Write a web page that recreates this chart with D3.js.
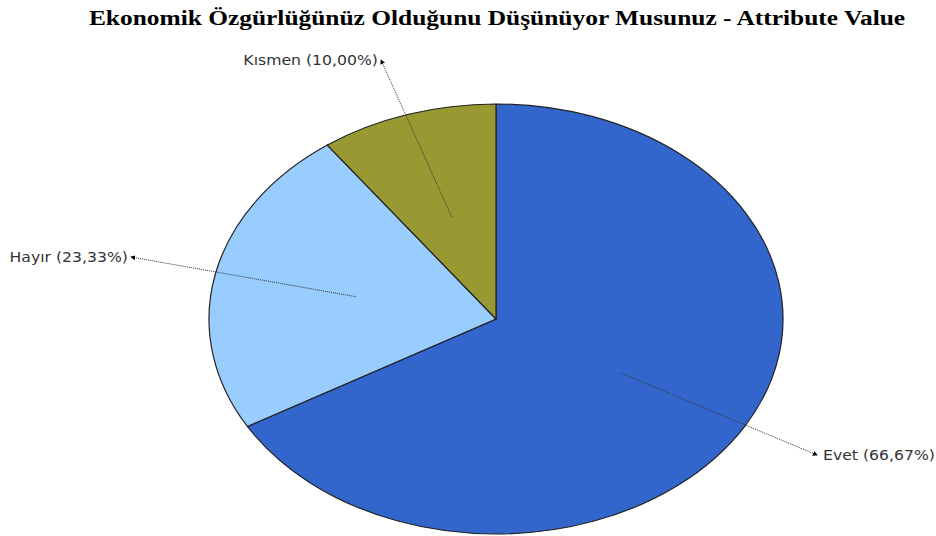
<!DOCTYPE html>
<html>
<head>
<meta charset="utf-8">
<script src="https://cdn.jsdelivr.net/npm/d3@7"></script>
<style>
  body { margin: 0; background: #fff; }
</style>
</head>
<body>
<div id="chart"></div>
<script>
const title = "Ekonomik Özgürlüğünüz Olduğunu Düşünüyor Musunuz - Attribute Value";
const categories = ["Evet", "Hayır", "Kısmen"];
const values = [66.67, 23.33, 10.00];
const colors = ["#3366cc", "#99ccff", "#999933"];

const w = 936, h = 536;
const cx = 496, cy = 319;
const rx = 287, ry = 215;

let svg = d3.select("#chart").append("svg")
  .attr("width", w)
  .attr("height", h);

// title is drawn a bit stretched sideways, like the source image
let titleText = svg.append("g")
  .attr("transform", "translate(497,25)")
  .append("text")
  .attr("x", 0)
  .attr("y", 0)
  .attr("text-anchor", "middle")
  .attr("font-family", "'Liberation Serif', 'Times New Roman', serif")
  .attr("font-weight", "bold")
  .attr("font-size", 21)
  .attr("fill", "#000")
  .text(title);
let tw = titleText.node().getComputedTextLength();
titleText.attr("transform", "scale(" + (817 / tw) + ",1)");

let data = categories.map(function(c, i) {
  return { name: c, value: values[i], color: colors[i] };
});

let pie = d3.pie()
  .sort(null)
  .value(function(d) { return d.value; });

let arcs = pie(data);

let arc = d3.arc()
  .innerRadius(0)
  .outerRadius(rx);

// elliptical pie: draw circle pie, squash vertically
let pieGroup = svg.append("g")
  .attr("transform", "translate(" + cx + "," + cy + ") scale(1," + (ry / rx) + ")");

pieGroup.selectAll("path")
  .data(arcs)
  .enter()
  .append("path")
  .attr("d", arc)
  .attr("fill", function(d) { return d.data.color; })
  .attr("stroke", "#222")
  .attr("stroke-width", 1.2)
  .attr("vector-effect", "non-scaling-stroke");

// arrow marker for leader lines
svg.append("defs").append("marker")
  .attr("id", "tip")
  .attr("viewBox", "0 0 6 6")
  .attr("refX", 5)
  .attr("refY", 3)
  .attr("markerWidth", 5)
  .attr("markerHeight", 5)
  .attr("orient", "auto")
  .append("path")
  .attr("d", "M0,0 L6,3 L0,6 Z")
  .attr("fill", "#000");

// label positions (arrow tip) and side
const labelTips = [[817, 455], [131, 257], [381, 60]];
const labelSide = ["start", "end", "end"];
const labelStretch = 1.12;

function innerPoint(d) {
  let a = (d.startAngle + d.endAngle) / 2;
  return [cx + rx * 0.5 * Math.sin(a), cy - ry * 0.5 * Math.cos(a)];
}

let labels = svg.append("g");

labels.selectAll("line")
  .data(arcs)
  .enter()
  .append("line")
  .attr("x1", function(d) { return innerPoint(d)[0]; })
  .attr("y1", function(d) { return innerPoint(d)[1]; })
  .attr("x2", function(d, i) { return labelTips[i][0]; })
  .attr("y2", function(d, i) { return labelTips[i][1]; })
  .attr("stroke", "#333")
  .attr("stroke-width", 1)
  .attr("stroke-dasharray", "1,1")
  .attr("marker-end", "url(#tip)");

labels.selectAll("g.lbl")
  .data(arcs)
  .enter()
  .append("g")
  .attr("class", "lbl")
  .attr("transform", function(d, i) {
    let x = labelSide[i] === "start" ? labelTips[i][0] + 6 : labelTips[i][0] - 3;
    return "translate(" + x + "," + (labelTips[i][1] + 5) + ") scale(" + labelStretch + ",1)";
  })
  .append("text")
  .text(function(d) {
    return d.data.name + " (" + d.data.value.toFixed(2).replace(".", ",") + "%)";
  })
  .attr("text-anchor", function(d, i) { return labelSide[i]; })
  .attr("font-family", "'DejaVu Sans', Verdana, sans-serif")
  .attr("font-size", 14)
  .attr("fill", "#333");
</script>
</body>
</html>
